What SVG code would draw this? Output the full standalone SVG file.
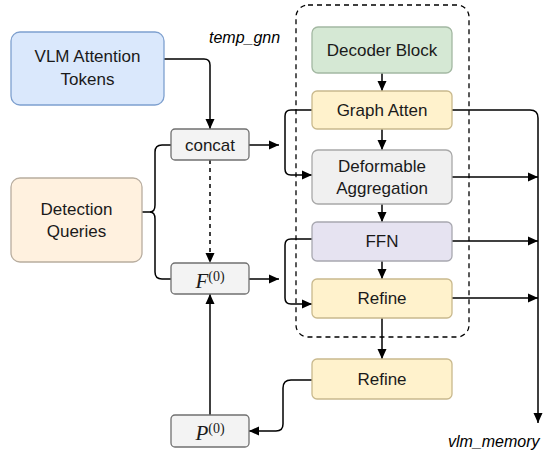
<svg xmlns="http://www.w3.org/2000/svg" width="547" height="455" viewBox="0 0 547 455">
<defs>
<marker id="ah" markerWidth="12" markerHeight="12" refX="10" refY="5" orient="auto" markerUnits="userSpaceOnUse">
<path d="M0,0.5 L10,5 L0,9.5 Z" fill="#000"/>
</marker>
<style>
.lbl{font-family:"Liberation Sans",Arial,sans-serif;font-size:17px;fill:#1a1a1a;text-anchor:middle;dominant-baseline:central}
.it{font-family:"Liberation Sans",Arial,sans-serif;font-size:16px;font-style:italic;fill:#000}
.math{font-family:"Liberation Serif","Times New Roman",serif;fill:#1a1a1a;text-anchor:middle}
.c{fill:none;stroke:#000;stroke-width:1.5}
.box{stroke-width:1.3}
</style>
</defs>
<rect x="296" y="5" width="173" height="332" rx="12" fill="none" stroke="#000" stroke-width="1.3" stroke-dasharray="5,4"/>
<text class="it" x="209" y="43">temp_gnn</text>
<text class="it" x="448" y="447">vlm_memory</text>

<g id="connectors">
<path class="c" d="M164,59 H204 Q210,59 210,65 V129" marker-end="url(#ah)"/>
<path class="c" d="M142,212 H150 Q155,212 155,205 V152 Q155,145 162,145 H171"/>
<path class="c" d="M150,212 Q155,212 155,219 V272 Q155,279 162,279 H171"/>
<path class="c" d="M249,145 H279" marker-end="url(#ah)"/>
<path class="c" d="M249,279 H279" marker-end="url(#ah)"/>
<path class="c" d="M210,160 V263" stroke-dasharray="4,4" marker-end="url(#ah)"/>
<path class="c" d="M210,415 V294" marker-end="url(#ah)"/>
<path class="c" d="M312,380 H291 Q283,380 283,388 V424 Q283,431 276,431 H249" marker-end="url(#ah)"/>
<path class="c" d="M312,110 H291 Q285,110 285,116 V169 Q285,175 291,175 H312" marker-end="url(#ah)"/>
<path class="c" d="M312,239 H291 Q285,239 285,245 V298 Q285,304 291,304 H312" marker-end="url(#ah)"/>
<path class="c" d="M382,73 V91" marker-end="url(#ah)"/>
<path class="c" d="M382,129 V150" marker-end="url(#ah)"/>
<path class="c" d="M382,204 V222" marker-end="url(#ah)"/>
<path class="c" d="M382,261 V279" marker-end="url(#ah)"/>
<path class="c" d="M382,318 V359" marker-end="url(#ah)"/>
<path class="c" d="M452,110 H530 Q538,110 538,118 V423" marker-end="url(#ah)"/>
<path class="c" d="M452,177 H538" marker-end="url(#ah)"/>
<path class="c" d="M452,241 H538" marker-end="url(#ah)"/>
<path class="c" d="M452,298 H538" marker-end="url(#ah)"/>
</g>

<g id="vlm">
<rect class="box" x="11" y="32" width="153" height="73" rx="9" fill="#dae8fc" stroke="#7ea0cf"/>
<text class="lbl" x="87.5" y="56">VLM Attention</text>
<text class="lbl" x="87.5" y="79">Tokens</text>
</g>
<g id="detection">
<rect class="box" x="11" y="178" width="131" height="84" rx="9" fill="#fff1df" stroke="#b8ad9f"/>
<text class="lbl" x="76.5" y="209">Detection</text>
<text class="lbl" x="76.5" y="231">Queries</text>
</g>
<g id="concat">
<rect class="box" x="171" y="129" width="78" height="31" rx="4" fill="#f3f3f3" stroke="#707070"/>
<text class="lbl" x="210" y="145">concat</text>
</g>
<g id="f0">
<rect class="box" x="171" y="263" width="78" height="31" rx="4" fill="#f3f3f3" stroke="#707070"/>
<text class="math" x="210" y="288" font-size="21"><tspan font-style="italic">F</tspan><tspan font-size="14" dy="-7">(0)</tspan></text>
</g>
<g id="p0">
<rect class="box" x="171" y="415" width="78" height="32" rx="4" fill="#f3f3f3" stroke="#707070"/>
<text class="math" x="210" y="440" font-size="21"><tspan font-style="italic">P</tspan><tspan font-size="14" dy="-7">(0)</tspan></text>
</g>
<g id="decoder">
<rect class="box" x="312" y="27" width="140" height="46" rx="6" fill="#d5e8d4" stroke="#a3b8a2"/>
<text class="lbl" x="382" y="50">Decoder Block</text>
</g>
<g id="graph">
<rect class="box" x="312" y="91" width="140" height="38" rx="5" fill="#fff2cc" stroke="#c9b98d"/>
<text class="lbl" x="382" y="110">Graph Atten</text>
</g>
<g id="deform">
<rect class="box" x="312" y="150" width="140" height="54" rx="6" fill="#f0f0f0" stroke="#a8a8a8"/>
<text class="lbl" x="382" y="166">Deformable</text>
<text class="lbl" x="382" y="188">Aggregation</text>
</g>
<g id="ffn">
<rect class="box" x="312" y="222" width="140" height="39" rx="5" fill="#e6e3f1" stroke="#a8a8b0"/>
<text class="lbl" x="382" y="241">FFN</text>
</g>
<g id="refine1">
<rect class="box" x="312" y="279" width="140" height="39" rx="5" fill="#fff2cc" stroke="#c9b98d"/>
<text class="lbl" x="382" y="298">Refine</text>
</g>
<g id="refine2">
<rect class="box" x="312" y="359" width="140" height="40" rx="5" fill="#fff2cc" stroke="#c9b98d"/>
<text class="lbl" x="382" y="379">Refine</text>
</g>
</svg>
